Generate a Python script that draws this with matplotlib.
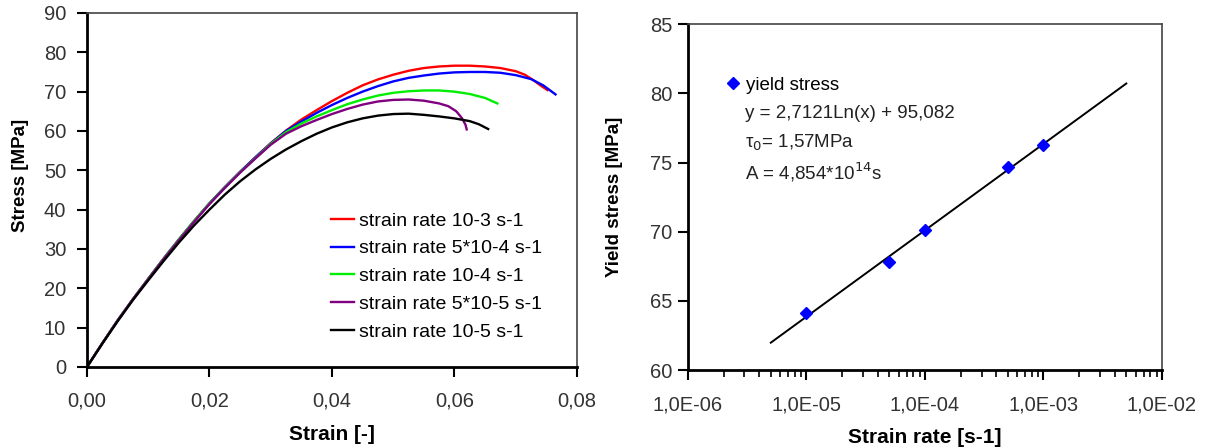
import matplotlib
matplotlib.use("Agg")
import matplotlib.pyplot as plt
import matplotlib.ticker as mticker
import numpy as np

plt.rcParams['font.family'] = ['Liberation Sans', 'DejaVu Sans']

# stress-strain curves (strain [-], stress [MPa])
labels = ["strain rate 10-3 s-1", "strain rate 5*10-4 s-1", "strain rate 10-4 s-1",
          "strain rate 5*10-5 s-1", "strain rate 10-5 s-1"]
colors = ["#ff0000", "#0000ff", "#00ee00", "#800080", "#000000"]

red_x = [0, .0025, .005, .0075, .01, .0125, .015, .0175, .02, .0225, .025, .0275, .03,
         .0325, .035, .0375, .04, .0425, .045, .0475, .05, .0525, .055, .0575, .06,
         .0625, .065, .0675, .07, .0715, .073, .0742, .0752]
red_y = [0, 6, 11.8, 17.2, 22.4, 27.5, 32.4, 37.1, 41.6, 45.7, 49.6, 53.3, 56.9,
         60.1, 62.9, 65.3, 67.6, 69.7, 71.6, 73.1, 74.3, 75.3, 76.0, 76.4, 76.6,
         76.6, 76.4, 76.0, 75.2, 74.3, 72.8, 71.4, 70.4]
blue_x = [0, .0025, .005, .0075, .01, .0125, .015, .0175, .02, .0225, .025, .0275, .03,
          .0325, .035, .0375, .04, .0425, .045, .0475, .05, .0525, .055, .0575, .06,
          .0625, .065, .0675, .07, .0725, .0745, .0765]
blue_y = [0, 6, 11.8, 17.2, 22.4, 27.5, 32.4, 37.1, 41.6, 45.7, 49.6, 53.3, 56.8,
          60.0, 62.4, 64.6, 66.6, 68.4, 70.0, 71.4, 72.6, 73.5, 74.1, 74.6, 74.9,
          75.0, 75.0, 74.8, 74.2, 73.2, 71.6, 69.3]
green_x = [0, .0025, .005, .0075, .01, .0125, .015, .0175, .02, .0225, .025, .0275, .03,
           .0325, .035, .0375, .04, .0425, .045, .0475, .05, .0525, .055, .0575, .06,
           .0625, .065, .067]
green_y = [0, 6, 11.8, 17.2, 22.4, 27.5, 32.4, 37.1, 41.6, 45.6, 49.5, 53.1, 56.7,
           59.7, 61.9, 63.7, 65.3, 66.8, 68.0, 69.0, 69.7, 70.1, 70.3, 70.3, 70.0,
           69.4, 68.4, 67.0]
purple_x = [0, .0025, .005, .0075, .01, .0125, .015, .0175, .02, .0225, .025, .0275, .03,
            .0325, .035, .0375, .04, .0425, .045, .0475, .05, .0525, .055, .0575, .059,
            .0603, .0612, .0618, .062]
purple_y = [0, 6, 11.8, 17.2, 22.3, 27.4, 32.2, 36.9, 41.4, 45.5, 49.4, 53.0, 56.5,
            59.3, 61.2, 62.8, 64.3, 65.6, 66.7, 67.5, 67.9, 68.0, 67.7, 67.0, 66.3,
            65.0, 63.3, 61.6, 60.4]
black_x = [0, .0025, .005, .0075, .01, .0125, .015, .0175, .02, .0225, .025, .0275, .03,
           .0325, .035, .0375, .04, .0425, .045, .0475, .05, .0525, .055, .0575, .06,
           .0625, .064, .0655]
black_y = [0, 5.9, 11.6, 17.0, 22.0, 26.9, 31.6, 36.0, 40.0, 43.8, 47.2, 50.2, 52.9,
           55.3, 57.4, 59.3, 60.9, 62.2, 63.2, 63.9, 64.3, 64.4, 64.1, 63.7, 63.2,
           62.5, 61.7, 60.5]

curves = [(red_x, red_y), (blue_x, blue_y), (green_x, green_y),
          (purple_x, purple_y), (black_x, black_y)]

# yield stress vs strain rate
rate = [1e-5, 5e-5, 1e-4, 5e-4, 1e-3]
yield_stress = [64.1, 67.8, 70.1, 74.7, 76.3]
fit_a, fit_b = 2.7121, 95.082
fit_range = [5e-6, 5e-3]

tick_color = "#333333"
text_color = "#222222"


def style_frame(ax, ypad):
    for side in ("left", "bottom"):
        ax.spines[side].set_linewidth(2.0)
        ax.spines[side].set_color("black")
    for side in ("top", "right"):
        ax.spines[side].set_linewidth(1.2)
        ax.spines[side].set_color("#444444")
    ax.tick_params(which="major", direction="out", length=7, width=1.5,
                   labelsize=14.5, labelcolor=tick_color)
    ax.tick_params(which="minor", direction="out", length=5, width=1.2)
    ax.tick_params(axis="x", which="major", pad=11)
    ax.tick_params(axis="y", which="major", pad=ypad)


def comma(fmt):
    return mticker.FuncFormatter(lambda v, p: fmt.format(v).replace(".", ","))


fig = plt.figure(figsize=(12.08, 4.48), dpi=100)

# left: stress-strain curves
ax1 = fig.add_axes([0.072, 0.181, 0.4056, 0.790])
for (xs, ys), c, lab in zip(curves, colors, labels):
    ax1.plot(xs, ys, color=c, lw=1.7, label=lab, solid_joinstyle="round")
ax1.set_xlim(0, 0.08)
ax1.set_ylim(0, 90)
ax1.set_xticks([0, 0.02, 0.04, 0.06, 0.08])
ax1.set_yticks(range(0, 91, 10))
ax1.xaxis.set_major_formatter(comma("{:.2f}"))
style_frame(ax1, ypad=8)
ax1.set_xlabel("Strain [-]", fontsize=15, fontweight="bold", labelpad=10)
ax1.set_ylabel("Stress [MPa]", fontsize=13.5, fontweight="bold")
ax1.yaxis.set_label_coords(-0.118, 0.54)
ax1.legend(loc="center left", bbox_to_anchor=(0.498, 0.256), frameon=False, fontsize=14,
           handlelength=1.18, handletextpad=0.26, labelspacing=0.52,
           borderpad=0, borderaxespad=0)

# right: yield stress vs strain rate
ax2 = fig.add_axes([0.5695, 0.174, 0.3924, 0.772])
fx = np.array(fit_range)
ax2.semilogx(fx, fit_a * np.log(fx) + fit_b, color="black", lw=1.4, zorder=2)
ax2.plot(rate, yield_stress, ls="none", marker="D", ms=6.5, color="#0000ff", zorder=3,
         label="yield stress")
ax2.set_xlim(1e-6, 1e-2)
ax2.set_ylim(60, 85)
ax2.set_yticks(range(60, 86, 5))
ax2.xaxis.set_major_formatter(mticker.FuncFormatter(
    lambda v, p: "{:.1E}".format(v).replace(".", ",")))
ax2.xaxis.set_minor_locator(mticker.LogLocator(base=10, subs=np.arange(2, 10)))
ax2.xaxis.set_minor_formatter(mticker.NullFormatter())
style_frame(ax2, ypad=4)
ax2.set_xlabel("Strain rate [s-1]", fontsize=15, fontweight="bold", labelpad=10)
ax2.set_ylabel("Yield stress [MPa]", fontsize=13.5, fontweight="bold")
ax2.yaxis.set_label_coords(-0.137, 0.5)
ax2.legend(loc="center left", bbox_to_anchor=(0.079, 0.824), frameon=False, fontsize=13.5,
           handlelength=0.8, handletextpad=0.3, borderpad=0, borderaxespad=0)
ax2.text(0.12, 0.743, "y = 2,7121Ln(x) + 95,082", transform=ax2.transAxes,
         fontsize=13.5, va="center", color=text_color)
ax2.text(0.12, 0.656, "τ$_0$= 1,57MPa", transform=ax2.transAxes,
         fontsize=13.5, va="center", color=text_color)
ax2.text(0.12, 0.572, r"A = 4,854*10$^{14}$s", transform=ax2.transAxes,
         fontsize=13.5, va="center", color=text_color)

fig.savefig("out.png", dpi=100)
